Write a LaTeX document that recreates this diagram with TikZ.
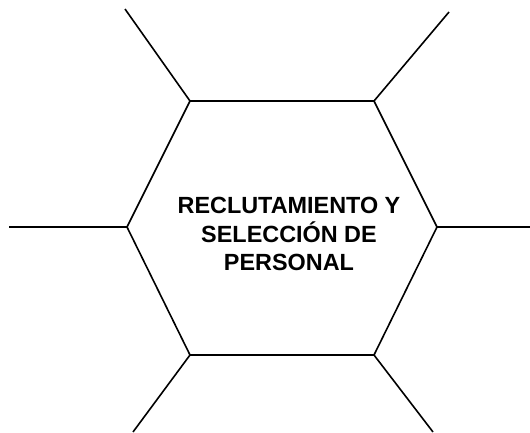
\documentclass[tikz,border=0pt]{standalone}
\usepackage{fontspec}
\setmainfont{Liberation Sans}
\begin{document}
\begin{tikzpicture}[x=1pt,y=-1pt,
  edge/.style={line width=1.6pt,line cap=butt,line join=miter},
  label/.style={font=\bfseries\fontsize{23.4}{28.3}\selectfont,align=center,inner sep=0pt}]
\useasboundingbox (0,0) rectangle (530,432);
\coordinate (tl) at (190,101);
\coordinate (tr) at (374,101);
\coordinate (r) at (437,227);
\coordinate (br) at (374,355);
\coordinate (bl) at (190,355);
\coordinate (l) at (127,227);
\coordinate (etl) at (125,9);
\coordinate (etr) at (449,12);
\coordinate (el) at (9,227);
\coordinate (er) at (530,227);
\coordinate (ebl) at (133,432);
\coordinate (ebr) at (433,432);
\draw[edge] (tl) -- (tr) -- (r) -- (br) -- (bl) -- (l) -- cycle;
\draw[edge] (tl) -- (etl);
\draw[edge] (tr) -- (etr);
\draw[edge] (l) -- (el);
\draw[edge] (r) -- (er);
\draw[edge] (bl) -- (ebl);
\draw[edge] (br) -- (ebr);
\node[label] (t) at (289,234) {RECLUTAMIENTO Y\\SELECCIÓN DE\\PERSONAL};
\end{tikzpicture}
\end{document}
